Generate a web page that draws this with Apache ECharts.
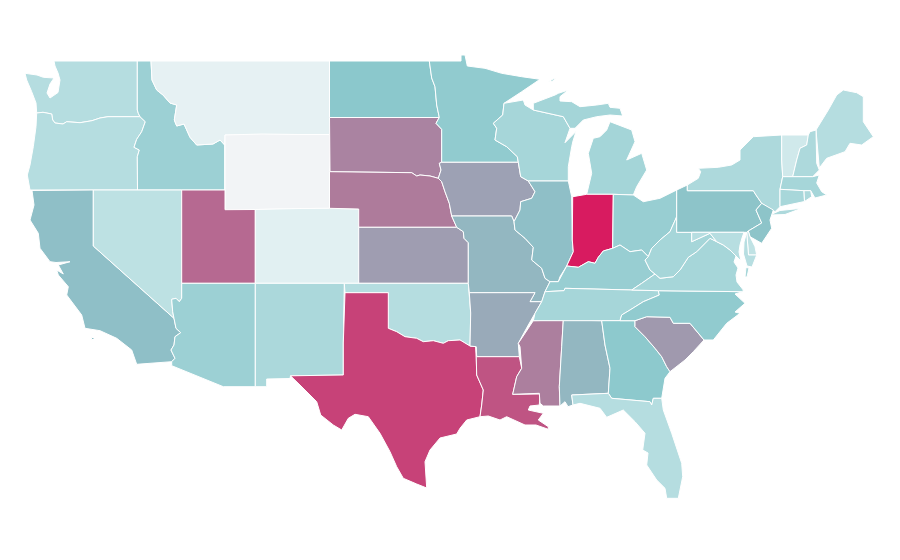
<!DOCTYPE html>
<html><head><meta charset="utf-8">
<script src="https://cdn.jsdelivr.net/npm/echarts@6/dist/echarts.min.js"></script>
<style>html,body{margin:0;padding:0;background:#fff}#c{width:900px;height:560px}</style>
</head><body><div id="c"></div>
<script>
const stateNames = ["Washington","Oregon","Idaho","Montana","Wyoming","California","Nevada","Utah","Colorado","Arizona","New Mexico","North Dakota","South Dakota","Nebraska","Kansas","Oklahoma","Texas","Minnesota","Iowa","Missouri","Arkansas","Louisiana","Wisconsin","Illinois","Mississippi","Alabama","Michigan","Indiana","Ohio","Kentucky","Tennessee","Georgia","Florida","South Carolina","North Carolina","Virginia","West Virginia","Pennsylvania","New York","Maine","Vermont","New Hampshire","Massachusetts","Connecticut","Rhode Island","New Jersey","Delaware","Maryland"];
const stateValues = [40,40,52,13,0,62,36,82,18,52,45,60,76,78,70,40,91,57,69,64,67,87,47,62,77,64,48,100,54,54,47,59,40,71,57,47,47,61,44,40,27,44,47,46,44,61,35,39];
const scaleColors = ["#f2f4f6","#dff0f1","#b5dde0","#8bc8cc","#b27296","#d81b60"];

// Base map geometry (state outlines), each ring a string of "x,y" vertices.
const R = {
 wyColumbia:"36.7,113 43,112.3 51.7,114 52.7,120 55,123 63,124 66.7,121.7 80,122.7 92,120.7 100,118 108,116.7 140,116.7",
 idWest:"137.3,61 137.3,110 138.3,113.3 140,116.7 145.3,121.7 141.7,131.7 136.7,139.3 134,147.3 139.3,150 137.3,156.7 137.5,190",
 mtId:"151,61 152,80 156.7,90 163,95 170,103 176.7,105 174.3,120 176.7,126 184,124 190,137.3 196.7,145 213,144 220,140 224.7,145",
 caNv:"174,318.3 93.3,246 93.3,190",
 caAz:"171.7,361.7 175,358.3 171,350 174,345 175,336.7 180.7,332.7 176,328.3 174,318.3",
 azNv:"174,318.3 172.7,311.7 171.7,299.3 176,298.3 179.3,301.7 181.7,298.3 181.7,283.3",
 red:"388.3,328.3 396.7,331.7 405,336.7 416.7,338.3 423.3,341.7 433.3,340.7 443.3,343.3 448.3,340.7 460,340 470,346",
 ndMn:"429.3,61 431.7,78 435,86.7 436.7,105 439.3,117.5",
 sdMn:"439.3,117.5 436,123.3 441.7,129.3 441.7,162.3",
 sdIa:"441.7,162.3 439.3,163.3 441,170 438.3,178.3",
 sdNe:"330,171.7 411.7,172.7 416.7,176 420,175 430,176 438.3,178.3",
 neMo:"438.3,178.3 441.7,181.7 445,191.7 449.3,203.3 451.7,216",
 moKs:"451.7,216 456.7,227.3 463.3,231.7 464,238.3 468.3,242.7 468.3,283.3",
 mnWi:"504,103.3 502.7,115 493.3,123.3 496.7,128.3 495,140 506.7,146.7 517.3,156.7 518.3,162.3",
 iaIl:"520.7,176.7 528.3,181 535,191.7 531.7,198.3 520.7,201.7 520,210 514,221.7",
 ilMo:"514,221.7 515,230 525,238.3 533.3,247.3 531.7,260 541.7,268.3 545,278.3 550,281.7",
 ohioR:"558.3,281.7 566.7,266 578.3,267.3 588.3,261.7 595,263.3 598.3,257.3 603.3,251 612.7,248.3 620,245 630,251.7 641.7,250 648.3,256.7",
 ohWv:"648.3,256.7 651.7,248.3 660,240 670,231.7 676.7,216.7",
 kyWv:"648.3,256.7 645,260 650,270 655,274",
 vaWv:"655,274 660,278.3 673.3,276.7 680,270 688.3,257.3 696.7,251.7 710,238.3 716.7,241.7",
 tnNc:"659.3,295 643.3,301.7 630,310 621.7,315 620,320.7",
 msAr:"533.3,320.7 525,333.3 518.3,343.3 520,346.7 521.7,368.3 516.7,376.7 512.7,394.3",
 scGa:"635,320.7 635,326.7 645,336.7 655,348.3 661.7,356.7 666.7,366.7 670,371.7",
 paNy:"753.3,190.7 756,195 761.7,203.3",
 paNj:"761.7,203.3 756,210 761.7,223 748.3,231"
};
const rev = s => s.trim().split(" ").reverse().join(" ");
const stateShapes = {
 "Washington":[["54,61 137.3,61", "137.3,110 138.3,113.3", rev(R.wyColumbia), "36,103 31.7,91.7 26.7,80 25,73.3 37,75 43.3,77.3 54,78 50,84 47,93 50,98 58,92.5 60,80 58,73 55,66"].join(" ")],
 "Oregon":[[R.wyColumbia, "145.3,121.7 141.7,131.7 136.7,139.3 134,147.3 139.3,150 137.3,156.7 137.5,190 30,190 27.3,175 30,165 33.3,146.7 36,126.7"].join(" ")],
 "Idaho":[[R.idWest, "224.7,190", rev(R.mtId)].join(" ")],
 "Montana":[[R.mtId, "225,135 329.5,134.5 329.5,61"].join(" ")],
 "Wyoming":["225,135 262,134 300,134.5 329.5,134.5 329.5,208.3 300,208.5 255.3,209.5 225,209.7"],
 "California":[["32,190.5 34,205 30,220 38.3,233.3 40,248.3 50,261.7 56,262.5 70,261.7 58.3,265 63.3,274 56.7,270 58.3,275 68.3,286.7 66.7,295 81.7,315 85,328.3 100,330.7 116.7,338.3 131.7,350 136.7,364.3", R.caAz, R.caNv].join(" "),"91.5,337.5 94,337.5 94,339.5 91.5,339.5"],
 "Nevada":[["93.3,190 181.7,190 181.7,283.3", rev(R.azNv), "93.3,246"].join(" ")],
 "Utah":["181.7,190 225,190 225,209.7 255.3,209.5 255.3,283.3 181.7,283.3"],
 "Colorado":["255.3,209.5 300,208.5 329.5,208.3 358.7,209 358.7,283.3 255.3,283.3"],
 "Arizona":[["181.7,283.3 255.3,283.3 255.3,386.7 223.3,386.7 171.7,365.7", R.caAz, R.azNv].join(" ")],
 "New Mexico":["255.3,283.3 344.3,283.3 343.3,343 343.3,375 290.5,375.8 290,378.5 266.7,379 266.7,386.7 255.3,386.7"],
 "North Dakota":[["329.5,61", R.ndMn, "329.5,117.5"].join(" ")],
 "South Dakota":[["329.5,117.5", R.sdMn, R.sdIa, rev(R.sdNe), "329.5,171.5"].join(" ")],
 "Nebraska":[[R.sdNe, R.neMo.replace(/^438\.3,178\.3 /,""), "456.7,227.3 358.7,227.3 358.7,209 329.5,208.3 329.5,171.5"].join(" ")],
 "Kansas":["358.7,227.3 456.7,227.3 463.3,231.7 464,238.3 468.3,242.7 468.3,283.3 358.7,283.3"],
 "Oklahoma":[["344.3,283.3 468.3,283.3 470.7,313", rev(R.red), "388.3,292.7 345,292.7"].join(" ")],
 "Texas":[["345,292.7 388.3,292.7", R.red, "476,346.7 476.7,375 483.3,390 481.7,405 480,416.7 466.7,420 460,428.3 456.7,434 440,438 430,450 425,461.7 426.7,488 416.7,484 403.3,478.3 396.7,466.7 390,451.7 380,433.3 368.3,416.7 355,414.3 348.3,418.3 341.7,430 333.3,425 320.7,415 316.7,401.7 300,385 290.5,375.8 343.3,375 343.3,343"].join(" ")],
 "Minnesota":[["461,61 461,55 465,55 467.3,66 485,68.3 501.7,73.3 521.7,76.7 540,79.3 521.7,91.7", R.mnWi, rev(R.sdMn), rev(R.ndMn)].join(" ")],
 "Iowa":[[R.sdIa, R.neMo.replace(/^438\.3,178\.3 /,""), "511.7,216 514,221.7", rev(R.iaIl), "518.3,162.3"].join(" ")],
 "Missouri":[[R.moKs, "469.3,292.7 535,292.7 530,301.7 541.7,301.7 545,291.7", rev(R.ilMo), "511.7,216"].join(" ")],
 "Arkansas":["469.3,292.7 535,292.7 530,301.7 541.7,301.7 535,313.3 528.3,325 518.3,343.3 519.3,356.7 476.7,356.7 476,346.7 470,346 470.7,313"],
 "Louisiana":["476.7,356.7 519.3,356.7 521.7,368.3 516.7,376.7 512.7,394.3 540,394 539.3,405 530,406 528.3,410 543.3,413.3 538.3,420 548.3,426.7 548.3,429.3 536,425 525,425 506.7,416.7 500,420 488.3,416 480,416.7 481.7,405 483.3,390 476.7,375 476,346.7"],
 "Wisconsin":[[R.mnWi, "520.7,176.7 528.3,181 568.3,181 568.3,166.7 571.7,146.7 573,141 576,131.5 565,142.7 570,128.3 563.3,116.7 533.3,110 525,105 523.3,100"].join(" ")],
 "Illinois":["528.3,181 568.3,181 571.7,196.7 572.3,240 573.3,251.7 566.7,266 560,276.7 558.3,281.7 550,281.7 545,278.3 541.7,268.3 531.7,260 533.3,247.3 525,238.3 515,230 514,221.7 520,210 520.7,201.7 531.7,198.3 535,191.7"],
 "Mississippi":[[R.msAr, "539.3,393.3 540,403.3 543.3,406 560,406 559.3,386.7 561.7,346.7 563.3,320"].join(" ")],
 "Alabama":["563.3,320 601.7,320.7 605,345 610,368.3 608.3,393.3 571.7,395 573,405 568,406.7 565,401.7 560,406 559.3,386.7 561.7,346.7"],
 "Michigan":["533.3,110 533.3,103.3 555,95 558.3,93.3 568.3,90 560,96.7 560,101 571.7,101.7 580,106.7 596.7,105 608.3,103.3 610,107.3 620,108.3 622.7,116 610,115 596.7,116.7 583.3,120 575,128.3 570,128.3 563.3,116.7","610,121.7 631.7,130 635,141.7 626.7,160 641.7,153.3 646.7,170 636.7,186.7 633.3,195 613.3,194.3 586.7,194.3 587.3,193.3 591.7,173.3 588.3,153.3 593.3,138.3 600,136.7 606.7,130","548,82 553,79 555.5,78 553,81"],
 "Indiana":["572.7,196.7 586.7,194.3 613.3,194.3 612.7,245 612.7,248.3 603.3,251 598.3,257.3 595,263.3 588.3,261.7 578.3,267.3 566.7,266 573.3,251.7 572.3,240"],
 "Ohio":["613.3,194.3 633.3,195 643.3,201.7 660,198.3 676.7,190 676.7,216.7 670,231.7 660,240 651.7,248.3 648.3,256.7 641.7,250 630,251.7 620,245 612.7,248.3 612.7,245"],
 "Kentucky":[[R.ohioR, R.kyWv.replace(/^648\.3,256\.7 /,""), "641.7,283.3 631.7,290 565,288.3 564,290.7 545,291.7 550,281.7"].join(" ")],
 "Tennessee":[["545,291.7 564,290.7 565,288.3 631.7,290 658.3,290.7", R.tnNc, "533.3,320.7 535,313.3 541.7,301.7"].join(" ")],
 "Georgia":[["601.7,320.7", R.scGa, "665,378.3 661.7,398.3 653.3,398.3 651.7,405 650,401.7 611.7,398.3 608.3,393.3 610,368.3 605,345"].join(" ")],
 "Florida":["571.7,395 608.3,393.3 611.7,398.3 650,401.7 651.7,405 653.3,398.3 661.7,398.3 663.3,410 671.7,433.3 681.7,463.3 682.7,476.7 678.3,498.3 666.7,498.3 665,488.3 656.7,480 646.7,465 648,453 642.7,450 645,433.3 635,421.7 623.3,410 606.7,417.3 600,408.3 580,403.3 573,405"],
 "South Carolina":[[R.scGa, "685,360 693.3,351.7 704,340 690,323.3 673.3,323.3 670,317.3 646.7,316.7"].join(" ")],
 "North Carolina":[["658.3,290.7 742.7,291.7 735,294 745,303.3 735,312 740,313.3 726.7,323.3 713.3,340 704,340 690,323.3 673.3,323.3 670,317.3 646.7,316.7 635,320.7", rev(R.tnNc)].join(" ")],
 "Virginia":[["631.7,290 641.7,283.3 655,274", R.vaWv.replace(/^655,274 /,""), "723.3,245 730,250 736,256 734,262 738,268 736,275 737,282 743.3,290 742.7,291.7 658.3,290.7"].join(" "),"749,268 746,267.5 745,277 747,277"],
 "West Virginia":[[R.ohWv, "676.7,232.3 691.7,232.3 691.7,241.7 710,233.3 716.7,241.7", rev(R.vaWv), rev(R.kyWv).replace(/ 648\.3,256\.7$/,"")].join(" ")],
 "Pennsylvania":[["676.7,190 687.3,185 687.3,190.7", R.paNy, R.paNj.replace(/^761\.7,203\.3 /,""), "746.7,232.3 676.7,232.3"].join(" ")],
 "New York":["687.3,190.7 687.3,185 698.3,178.3 700.7,171.7 698.3,168.3 718.3,167.3 731.7,165 740,160 740,150 753.3,136.7 781.7,135 781.7,160 782.7,176.7 780,189.3 780,206.7 775,211.7 761.7,203.3 756,195 753.3,190.7","770,215 780,210.5 801.7,208.3 785,214.5"],
 "Maine":["816,130 828.3,110 836.7,95 843.3,90 856.7,92.7 863.3,96.7 863.3,121.7 873.3,136.7 861.7,145 850,143.3 845,151.7 826.7,158.3 819.3,168"],
 "Vermont":["781.7,135 808.3,135 806.7,145 800,148.3 796.7,160 792.7,176.7 782.7,176.7 781.7,160"],
 "New Hampshire":["810,131.7 816,130 816.7,163.3 819.3,170 812.7,176.7 792.7,176.7 796.7,160 800,148.3 806.7,145 808.3,135"],
 "Massachusetts":["782.7,176.7 812.7,176.7 819.3,175 816.7,183 821.7,191.7 826.7,195 815,198 810.7,190.7 804,190.7 780,189.3"],
 "Connecticut":["780,189.3 804,190.7 804.5,201.5 780,206.7"],
 "Rhode Island":["804,190.7 810.7,190.7 811.7,196.7 804.5,201.5"],
 "New Jersey":["761.7,203.3 773.3,210 770,220 771.7,228.3 761.7,243.3 750,236.7 748.3,231 761.7,223 756,210"],
 "Delaware":["746.7,232.3 748.3,231 750,236.7 755,246.7 756.7,255 748.5,255"],
 "Maryland":["691.7,232.3 744,232.3 742,238 740,245 739,252 741,261 737,257 736,256 730,250 723.3,245 716.7,241.7 710,233.3 691.7,241.7","746.7,232.3 748.5,255 756.7,255 752,267 747,266 743.5,254 744,242"]
};

const features = stateNames.map(name => ({
  type: "Feature",
  properties: { name },
  geometry: {
    type: "MultiPolygon",
    coordinates: stateShapes[name].map(ring => {
      const pts = ring.trim().split(/\s+/).map(p => p.split(",").map(Number));
      pts.push(pts[0].slice());
      return [pts];
    })
  }
}));
let x0=1e9,y0=1e9,x1=-1e9,y1=-1e9;
features.forEach(f=>f.geometry.coordinates.forEach(p=>p[0].forEach(([x,y])=>{x0=Math.min(x0,x);x1=Math.max(x1,x);y0=Math.min(y0,y);y1=Math.max(y1,y);})));
echarts.registerMap("usa",{type:"FeatureCollection",features});
const chart = echarts.init(document.getElementById("c"),null,{renderer:"canvas"});
chart.setOption({
  animation:false,
  backgroundColor:"#ffffff",
  tooltip:{show:false},
  visualMap:{show:false,type:"continuous",min:0,max:100,inRange:{color:scaleColors}},
  series:[{
    type:"map",map:"usa",silent:true,roam:false,aspectScale:1,
    projection:{project:c=>c,unproject:c=>c},
    left:x0,top:y0,width:x1-x0,height:y1-y0,
    label:{show:false},
    itemStyle:{borderColor:"#ffffff",borderWidth:1},
    data:stateNames.map((name,i)=>({name,value:stateValues[i]}))
  }]
});
</script></body></html>
